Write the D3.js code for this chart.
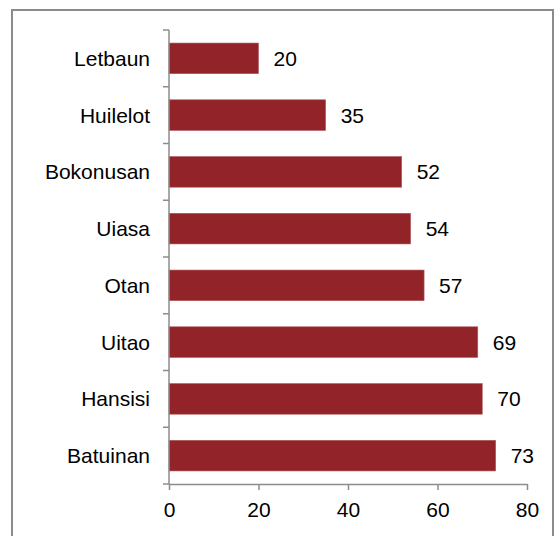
<!DOCTYPE html>
<html><head><meta charset="utf-8">
<script src="https://cdn.jsdelivr.net/npm/d3@7"></script>
<style>body{margin:0;background:#fff}svg{display:block}</style>
</head><body>
<script>
const categories = ["Letbaun","Huilelot","Bokonusan","Uiasa","Otan","Uitao","Hansisi","Batuinan"];
const values = [20,35,52,54,57,69,70,73];
const xTicks = [0,20,40,60,80];

const W = 556, H = 536;
const svg = d3.select("body").append("svg").attr("width", W).attr("height", H);
const font = "'Liberation Sans', Arial, sans-serif";
const fs = 21;

// outer border
svg.append("rect").attr("x", 12).attr("y", 10).attr("width", 541).attr("height", 540)
  .attr("fill", "none").attr("stroke", "#8c8c8c").attr("stroke-width", 2);

const x = d3.scaleLinear().domain([0, 80]).range([169, 527]);
const y = d3.scaleBand().domain(categories).range([30, 484]).paddingInner(0.46).paddingOuter(0.23);
const step = y.step();

// bars
svg.selectAll("rect.bar").data(values).join("rect").attr("class","bar")
  .attr("x", x(0)).attr("y", (d,i) => y(categories[i]))
  .attr("width", d => x(d) - x(0)).attr("height", y.bandwidth())
  .attr("fill", "#922328").attr("stroke", "#b05a5d").attr("stroke-width", 0.6);

// value labels
svg.selectAll("text.val").data(values).join("text").attr("class","val")
  .attr("x", d => x(d) + 15).attr("y", (d,i) => y(categories[i]) + y.bandwidth()/2)
  .attr("dy", "0.36em").attr("font-family", font).attr("font-size", fs).attr("fill", "#000")
  .text(d => d);

const axisColor = "#8c8c8c";
// y axis line
svg.append("line").attr("x1", x(0)).attr("x2", x(0)).attr("y1", 30).attr("y2", 484)
  .attr("stroke", axisColor).attr("stroke-width", 1.5);
// y ticks at band boundaries
const yTickPos = d3.range(categories.length + 1).map(i => 30 + i * step);
svg.selectAll("line.yt").data(yTickPos).join("line").attr("class","yt")
  .attr("x1", x(0) - 6).attr("x2", x(0)).attr("y1", d => d).attr("y2", d => d)
  .attr("stroke", axisColor).attr("stroke-width", 1.5);
// category labels
svg.selectAll("text.cat").data(categories).join("text").attr("class","cat")
  .attr("x", 150).attr("y", d => y(d) + y.bandwidth()/2).attr("dy", "0.36em")
  .attr("text-anchor", "end").attr("font-family", font).attr("font-size", fs).attr("fill", "#000")
  .text(d => d);

// x axis
const xAxis = svg.append("g").attr("transform", "translate(0,484)")
  .call(d3.axisBottom(x).tickValues(xTicks).tickSize(6).tickSizeOuter(0).tickPadding(12));
xAxis.select(".domain").attr("stroke", axisColor).attr("stroke-width", 1.5);
xAxis.selectAll(".tick line").attr("stroke", axisColor).attr("stroke-width", 1.5);
xAxis.selectAll(".tick text").attr("font-family", font).attr("font-size", fs).attr("fill", "#000");
</script>
</body></html>
